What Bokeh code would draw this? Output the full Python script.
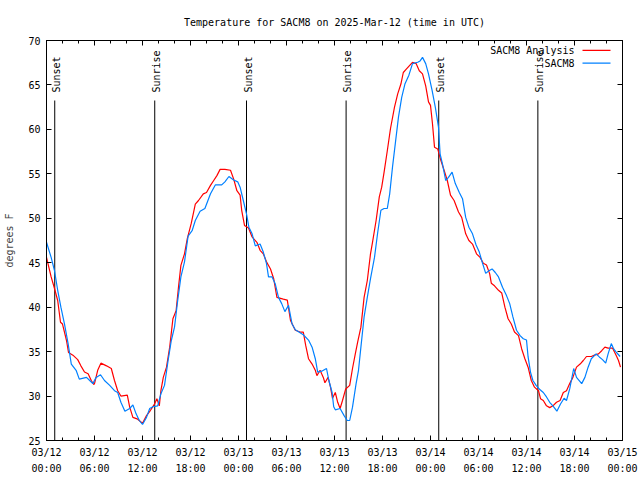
import math
from bokeh.plotting import figure
from bokeh.models import Range1d, FixedTicker, LinearAxis
from bokeh.embed import file_html
from bokeh.resources import INLINE
from bokeh.core.properties import value

FONT = "DejaVu Sans Mono"

TITLE = "Temperature for SACM8 on 2025-Mar-12 (time in UTC)"
Y_LABEL = "degrees F"

# x values are hours since 03/12 00:00 UTC
x_ticks = [0, 6, 12, 18, 24, 30, 36, 42, 48, 54, 60, 66, 72]
x_tick_labels = ["03/12\n00:00", "03/12\n06:00", "03/12\n12:00", "03/12\n18:00",
                 "03/13\n00:00", "03/13\n06:00", "03/13\n12:00", "03/13\n18:00",
                 "03/14\n00:00", "03/14\n06:00", "03/14\n12:00", "03/14\n18:00",
                 "03/15\n00:00"]
x_minor_ticks = list(range(0, 73, 2))
y_ticks = [25, 30, 35, 40, 45, 50, 55, 60, 65, 70]

analysis_hours = [0.0, 0.58, 1.0, 1.4, 1.75, 2.0, 2.5, 2.75, 3.3, 3.9, 4.3, 4.75, 5.2, 5.6, 5.9, 6.0,
                  6.4, 6.8, 7.5, 8.1, 8.5, 8.9, 9.3, 10.1, 10.4, 10.8, 11.4, 12.0, 12.5, 13.0, 13.5,
                  13.8, 14.1, 14.3, 14.6, 15.0, 15.4, 15.8, 16.2, 16.5, 16.8, 17.25, 17.6, 18.1, 18.6,
                  19.0, 19.6, 20.0, 20.5, 20.9, 21.3, 21.7, 22.3, 23.0, 23.4, 23.8, 24.2, 24.4, 24.75,
                  25.25, 25.7, 26.3, 26.7, 27.1, 27.5, 28.0, 28.4, 28.8, 29.6, 30.1, 30.5, 31.1, 31.7,
                  32.1, 32.4, 32.75, 33.2, 33.6, 33.8, 34.2, 34.6, 34.8, 35.2, 35.5, 35.75, 36.1, 36.4,
                  36.7, 37.0, 37.4, 37.9, 38.25, 38.6, 38.9, 39.3, 39.7, 40.1, 40.5, 40.75, 41.2, 41.6,
                  41.9, 42.2, 42.6, 43.0, 43.5, 43.9, 44.3, 44.6, 45.0, 45.4, 45.75, 46.2, 46.6, 47.0,
                  47.4, 47.75, 48.0, 48.25, 48.5, 48.9, 49.3, 49.7, 50.1, 50.5, 50.95, 51.5, 51.9, 52.4,
                  52.8, 53.25, 53.75, 54.2, 54.6, 55.0, 55.4, 55.6, 56.0, 56.5, 56.9, 57.3, 57.7, 58.1,
                  58.5, 59.0, 59.4, 59.8, 60.2, 60.6, 61.0, 61.5, 61.75, 62.1, 62.5, 62.9, 63.3, 63.75,
                  64.2, 64.6, 65.0, 65.4, 65.8, 66.25, 66.7, 67.1, 67.5, 68.1, 68.5, 69.0, 69.4, 69.8,
                  70.2, 70.75, 71.2, 71.5, 71.75]
analysis_temps = [45.6, 43.4, 42.1, 40.75, 38.3, 38.1, 36.25, 34.9, 34.6, 34.1, 33.4, 32.7, 32.5, 31.75, 31.3, 31.4,
                  32.9, 33.7, 33.4, 33.1, 31.75, 30.6, 30.0, 30.1, 28.75, 27.6, 27.4, 26.95, 27.8, 28.4, 29.1,
                  29.7, 28.9, 30.6, 32.1, 33.25, 35.5, 38.7, 39.6, 42.25, 44.7, 46.0, 47.7, 49.45, 51.6,
                  52.0, 52.75, 52.9, 53.7, 54.25, 54.8, 55.5, 55.5, 55.4, 54.4, 53.1, 52.6, 50.9, 49.2,
                  48.9, 47.9, 47.3, 46.4, 46.0, 45.1, 44.3, 43.2, 41.1, 40.9, 40.8, 38.5, 37.4, 37.2,
                  37.2, 35.7, 34.2, 33.6, 32.9, 32.3, 32.9, 32.1, 31.5, 32.1, 31.0, 29.75, 30.4, 29.3,
                  28.6, 29.5, 30.8, 31.2, 33.1, 34.75, 36.1, 37.75, 41.1, 43.0, 46.0, 47.3, 49.75, 52.4,
                  53.5, 55.2, 57.6, 60.1, 62.5, 64.0, 65.1, 66.4, 66.8, 67.2, 67.55, 67.4, 66.6, 66.25,
                  64.9, 63.1, 62.7, 60.6, 58.0, 57.8, 56.5, 55.4, 54.25, 52.6, 52.0, 50.7, 50.1, 48.25,
                  47.5, 47.1, 46.0, 45.6, 44.95, 44.75, 43.75, 42.7, 42.4, 41.9, 41.6, 40.0, 38.7, 38.1,
                  37.2, 36.8, 35.3, 34.2, 33.25, 31.75, 31.0, 30.6, 29.7, 29.5, 28.9, 28.7, 28.9, 29.3,
                  29.5, 30.4, 30.6, 31.4, 32.1, 33.25, 33.6, 34.0, 34.45, 34.45, 34.6, 34.75, 35.1, 35.5,
                  35.4, 35.4, 34.6, 34.0, 33.25]

obs_hours = [0.0, 0.58, 1.0, 1.4, 1.8, 2.25, 2.7, 3.1, 3.7, 4.1, 5.0, 5.4, 5.8, 6.2, 6.75, 7.25, 7.9,
             8.5, 8.9, 9.3, 9.8, 10.4, 10.8, 11.2, 11.6, 12.0, 12.5, 12.9, 13.3, 13.9, 14.3, 14.75,
             15.2, 15.6, 16.0, 16.4, 16.8, 17.25, 17.7, 18.2, 18.6, 19.2, 19.8, 20.5, 21.1, 21.9,
             22.3, 22.8, 23.4, 23.9, 24.2, 24.6, 25.0, 25.3, 25.7, 26.1, 26.7, 27.1, 27.5, 27.75,
             28.2, 28.6, 29.0, 29.4, 29.8, 30.25, 30.7, 31.1, 32.1, 32.75, 33.2, 33.6, 33.9, 34.4,
             35.0, 35.3, 35.7, 35.9, 36.1, 36.7, 37.2, 37.6, 37.9, 38.25, 38.7, 39.0, 39.3, 39.7,
             40.1, 40.5, 41.0, 41.4, 41.8, 42.2, 42.6, 42.9, 43.25, 43.6, 44.0, 44.4, 44.8, 45.3,
             45.75, 46.4, 46.7, 47.0, 47.4, 47.75, 48.2, 48.6, 49.0, 49.2, 49.5, 49.9, 50.25, 50.7,
             51.1, 51.6, 52.0, 52.4, 52.8, 53.25, 53.7, 54.1, 54.4, 54.9, 55.3, 55.7, 56.1, 56.5,
             57.0, 57.5, 57.9, 58.3, 58.75, 59.2, 59.6, 60.0, 60.2, 60.5, 60.8, 61.2, 61.7, 62.1,
             62.5, 62.9, 63.3, 63.8, 64.25, 64.7, 65.0, 65.4, 65.9, 66.25, 66.9, 67.3, 67.7, 68.1,
             68.7, 69.1, 69.5, 69.9, 70.2, 70.6, 70.9, 71.25, 71.7]
obs_temps = [47.3, 45.6, 44.1, 41.9, 40.0, 38.1, 35.9, 33.6, 32.9, 31.9, 32.1, 31.75, 31.4, 32.1, 32.4, 31.75, 31.2,
             30.6, 30.4, 29.3, 28.3, 28.6, 29.0, 28.0, 27.25, 26.8, 27.6, 28.6, 28.8, 28.9, 30.25, 31.2,
             34.0, 36.25, 37.75, 40.75, 43.4, 45.1, 48.0, 48.6, 49.75, 50.8, 51.1, 52.75, 53.75, 53.75,
             54.1, 54.7, 54.3, 54.1, 53.5, 52.0, 50.5, 49.0, 48.25, 46.9, 47.1, 46.2, 44.9, 43.4,
             43.4, 42.6, 41.1, 40.4, 39.5, 40.2, 38.1, 37.45, 36.9, 36.3, 35.5, 34.2, 32.7, 32.8,
             33.1, 31.75, 30.4, 28.8, 28.45, 28.6, 27.8, 27.25, 27.25, 28.75, 31.4, 32.9, 35.5, 38.9,
             41.1, 43.2, 45.6, 48.4, 50.9, 51.1, 51.1, 52.75, 55.75, 58.4, 61.4, 63.6, 65.1, 66.1,
             67.4, 67.55, 67.7, 68.1, 67.4, 66.25, 64.4, 62.5, 60.25, 57.25, 56.1, 54.25, 54.6, 55.2,
             53.9, 52.9, 52.2, 50.1, 49.0, 48.25, 47.0, 46.2, 45.25, 43.8, 44.1, 44.3, 43.9, 43.4,
             42.25, 41.3, 40.4, 38.9, 37.4, 36.8, 36.45, 36.3, 34.4, 32.7, 31.75, 31.2, 30.7, 30.4,
             29.9, 29.3, 28.9, 28.3, 29.1, 29.75, 29.5, 30.8, 33.1, 32.1, 31.4, 32.1, 33.25, 34.2,
             34.75, 34.4, 34.1, 33.7, 34.75, 35.9, 35.3, 34.9, 34.45]

event_hours = [1.03, 13.53, 25.0, 37.45, 49.03, 61.42]
event_names = ["Sunset", "Sunrise", "Sunset", "Sunrise", "Sunset", "Sunrise"]
event_line_top = 63.25
event_label_y = 64.15

series_names = ["SACM8 Analysis", "SACM8"]
series_colors = ["#ff0000", "#0080ff"]
legend_text_x = 66.0
legend_line_x = [67.0, 70.5]
legend_y = [68.9, 67.45]

p = figure(width=640, height=480, output_backend="svg", toolbar_location=None,
           x_range=Range1d(0, 72), y_range=Range1d(25, 70), title=TITLE,
           min_border_left=46, min_border_right=18, min_border_top=40, min_border_bottom=40)
p.background_fill_color = "white"
p.border_fill_color = "white"
p.grid.visible = False
p.outline_line_color = "black"
p.outline_line_width = 1

p.title.align = "center"
p.title.text_font = FONT
p.title.text_font_size = "10px"
p.title.text_font_style = "normal"
p.title.text_color = "black"
p.title.standoff = 25

xt = FixedTicker(ticks=x_ticks, minor_ticks=x_minor_ticks)
yt = FixedTicker(ticks=y_ticks)


def style(ax, labels=True, minor=True):
    ax.axis_line_color = "black"
    ax.major_tick_in = 5
    ax.major_tick_out = 0
    ax.minor_tick_in = 3
    ax.minor_tick_out = 0
    ax.major_tick_line_color = "black"
    ax.minor_tick_line_color = "black" if minor else None
    ax.major_label_text_font = FONT
    ax.major_label_text_font_size = "10px"
    ax.major_label_text_color = "black"
    if not labels:
        ax.major_label_text_font_size = "1px"
        ax.major_label_text_color = None
        ax.major_label_standoff = 0


xa = p.xaxis[0]
xa.ticker = xt
xa.major_label_overrides = {t: l for t, l in zip(x_ticks, x_tick_labels)}
style(xa)
xa.major_label_standoff = 6
xa.major_label_text_line_height = 1.5

ya = p.yaxis[0]
ya.ticker = yt
style(ya, minor=False)
ya.major_label_standoff = 6
ya.axis_label = Y_LABEL
ya.axis_label_text_font = FONT
ya.axis_label_text_font_size = "10px"
ya.axis_label_text_font_style = "normal"
ya.axis_label_standoff = 10

top = LinearAxis(ticker=xt)
style(top, labels=False)
p.add_layout(top, "above")
right = LinearAxis(ticker=yt)
style(right, labels=False, minor=False)
p.add_layout(right, "right")

# sunrise / sunset markers
p.segment(x0=event_hours, x1=event_hours, y0=[25] * len(event_hours),
          y1=[event_line_top] * len(event_hours), line_color="black", line_width=1)
p.text(x=[h + 0.2 for h in event_hours], y=[event_label_y] * len(event_hours), text=event_names,
       angle=math.pi / 2, text_align="left", text_baseline="middle",
       text_font=value(FONT), text_font_size="10px", text_color="black")

# series
p.line(analysis_hours, analysis_temps, line_color=series_colors[0], line_width=1.2)
p.line(obs_hours, obs_temps, line_color=series_colors[1], line_width=1.2)

# legend (gnuplot style: label then sample line)
p.text(x=[legend_text_x] * 2, y=legend_y, text=series_names, text_align="right",
       text_baseline="middle", text_font=value(FONT), text_font_size="10px", text_color="black")
p.segment(x0=[legend_line_x[0]] * 2, x1=[legend_line_x[1]] * 2, y0=legend_y, y1=legend_y,
          line_color=series_colors, line_width=1.2)

open("out.html", "w").write(file_html(p, INLINE))
